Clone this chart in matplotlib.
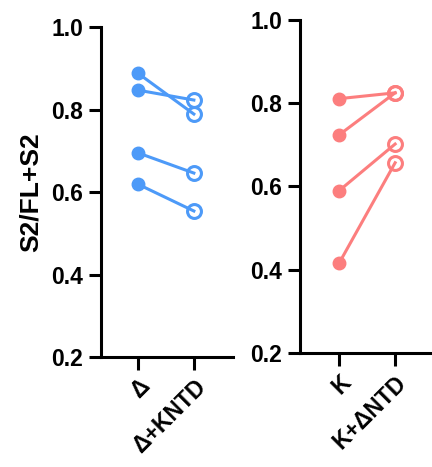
import matplotlib
matplotlib.use("Agg")
import matplotlib.pyplot as plt
from matplotlib import font_manager as fm

# regular-width Liberation Sans Bold (skip the Narrow variant)
bold_path = None
for f in fm.fontManager.ttflist:
    if f.name == 'Liberation Sans' and f.weight in (700, 'bold') and 'Narrow' not in f.fname:
        bold_path = f.fname
        break

tick_fp = fm.FontProperties(fname=bold_path, size=16.5)
label_fp = fm.FontProperties(fname=bold_path, size=19)

# paired values (before -> after)
delta_before = [0.888, 0.847, 0.695, 0.619]
delta_after = [0.789, 0.823, 0.646, 0.554]
k_before = [0.811, 0.724, 0.590, 0.416]
k_after = [0.825, 0.825, 0.702, 0.657]

left_labels = ['Δ', 'Δ+KNTD']
right_labels = ['K', 'K+ΔNTD']
yticks = [0.2, 0.4, 0.6, 0.8, 1.0]

blue = '#4D9AF8'
red = '#FC7E7E'


def paired_panel(ax, before, after, color, labels, xlim):
    for b, a in zip(before, after):
        ax.plot([0, 1], [b, a], color=color, lw=2.2, zorder=2)
    ax.plot([0] * len(before), before, 'o', color=color, ms=9, zorder=3)
    ax.plot([1] * len(after), after, 'o', mfc='none', mec=color, mew=2.2,
            ms=10, zorder=3)
    ax.set_xlim(*xlim)
    ax.set_ylim(0.2, 1.0)
    ax.set_yticks(yticks)
    ax.set_yticklabels([f'{t:.1f}' for t in yticks], fontproperties=tick_fp)
    ax.set_xticks([0, 1])
    ax.set_xticklabels(labels, rotation=45, ha='right',
                       rotation_mode='anchor', fontproperties=tick_fp)
    for s in ['top', 'right']:
        ax.spines[s].set_visible(False)
    for s in ['left', 'bottom']:
        ax.spines[s].set_linewidth(2.2)
    ax.tick_params(direction='out', length=9, width=2.2, pad=4)


fig = plt.figure(figsize=(4.32, 4.67), dpi=100)
ax1 = fig.add_axes([0.2338, 0.2355, 0.3056, 0.7066])
ax2 = fig.add_axes([0.6944, 0.2441, 0.32, 0.7131])

paired_panel(ax1, delta_before, delta_after, blue, left_labels, (-0.66, 1.70))
paired_panel(ax2, k_before, k_after, red, right_labels, (-0.70, 1.77))

ax1.set_ylabel('S2/FL+S2', fontproperties=label_fp, labelpad=6)

fig.savefig('out.png', dpi=100)
